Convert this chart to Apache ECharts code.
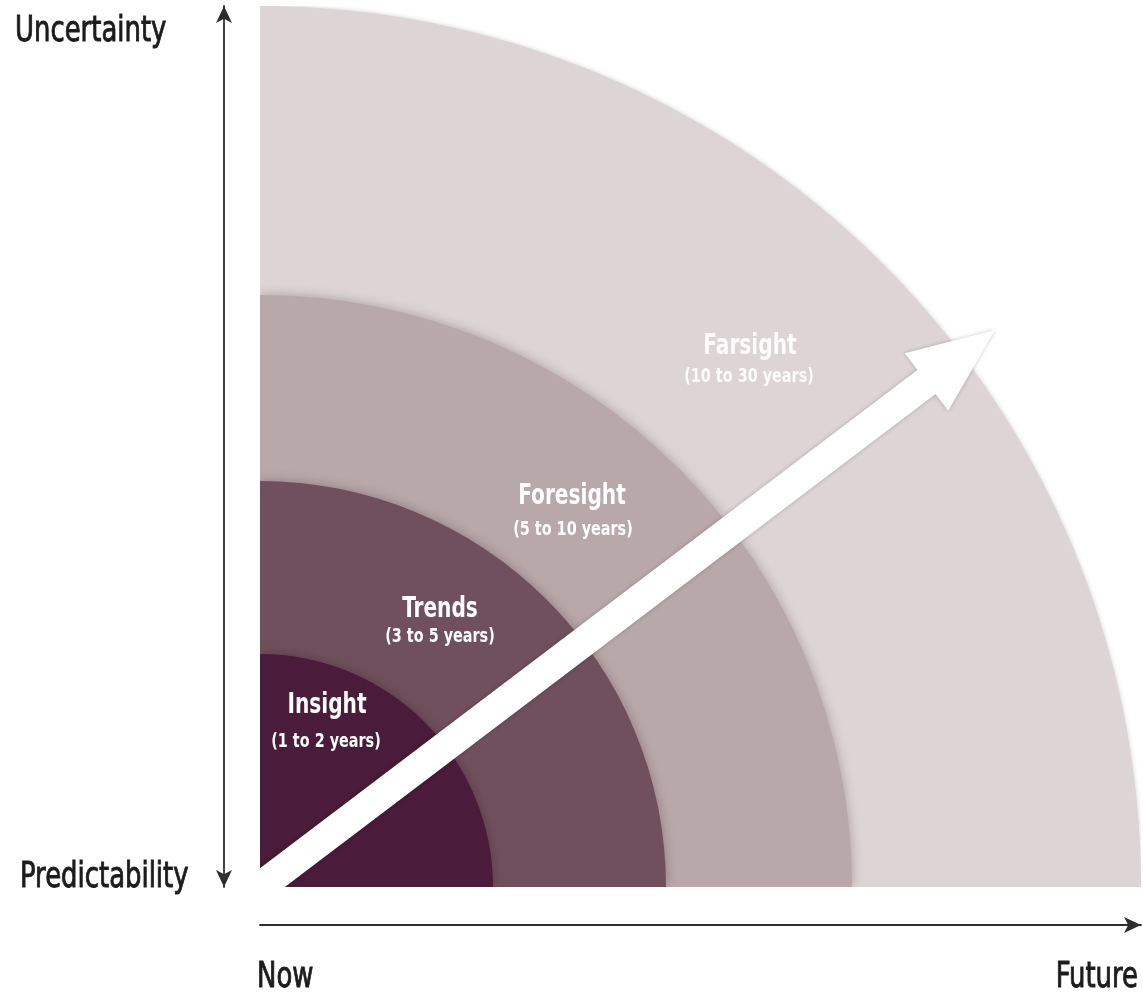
<!DOCTYPE html>
<html><head><meta charset="utf-8">
<script src="https://cdn.jsdelivr.net/npm/echarts@6/dist/echarts.min.js"></script>
<style>html,body{margin:0;padding:0;background:#fff}#c{width:1143px;height:1000px}</style>
</head><body><div id="c"></div>
<script>
// ---- data ----
const ringNames = ['Insight', 'Trends', 'Foresight', 'Farsight'];
const ringPeriods = ['(1 to 2 years)', '(3 to 5 years)', '(5 to 10 years)', '(10 to 30 years)'];
const ringOuterRadius = [233, 406, 592, 881];
const arrowTip = [735, 557];
const uncertaintyEnds = ['Predictability', 'Uncertainty'];
const timeEnds = ['Now', 'Future'];

// ---- styles / layout ----
const ringColors = ['#4a1b3a', '#70505c', '#b9a8aa', '#ddd5d5'];
const labelColors = ['#ffffff', '#ffffff', '#ffffff', 'rgba(255,255,255,0.92)'];
const titleAnchor = [[67, 181], [180, 277], [312, 390], [490, 540]];
const periodAnchor = [[66, 145], [180, 250], [313, 357], [489, 510]];
const FONT = "'Liberation Sans Narrow','DejaVu Sans Condensed','Arial Narrow',sans-serif";
const SQUEEZE = 0.8;

const chart = echarts.init(document.getElementById('c'), null, {renderer: 'canvas'});

const ringData = [3, 2, 1, 0].map(i => [i, ringOuterRadius[i]]);

function labelEl(text, pos, color, size) {
  return {
    type: 'text', x: pos[0], y: pos[1], scaleX: SQUEEZE,
    style: {
      text: text, x: 0, y: 0, fill: color,
      fontSize: size, fontWeight: 'bold', fontFamily: FONT,
      align: 'center', verticalAlign: 'middle'
    }
  };
}

function renderRing(params, api) {
  const i = api.value(0);
  const r = api.value(1);
  const c = api.coord([0, 0]);
  const rp = api.size([r, r])[0];
  return {
    type: 'group',
    children: [
      {
        type: 'sector',
        shape: {cx: c[0], cy: c[1], r0: 0, r: rp, startAngle: -Math.PI / 2, endAngle: 0, clockwise: true},
        style: {
          fill: ringColors[i],
          shadowBlur: i < 3 ? 12 : 5,
          shadowColor: i < 3 ? 'rgba(40,0,20,0.28)' : 'rgba(0,0,0,0.18)'
        }
      },
      labelEl(ringNames[i], api.coord(titleAnchor[i]), labelColors[i], 28),
      labelEl(ringPeriods[i], api.coord(periodAnchor[i]), labelColors[i], 20)
    ]
  };
}

function renderArrow(params, api) {
  const o = api.coord([0, 0]);
  const t = api.coord([api.value(0), api.value(1)]);
  const dx = t[0] - o[0], dy = t[1] - o[1];
  const L = Math.hypot(dx, dy);
  const ux = dx / L, uy = dy / L;
  const nx = -uy, ny = ux;
  const hw = 15, hh = 36, hl = 86;
  const bx = t[0] - ux * hl, by = t[1] - uy * hl;
  const sx = o[0] - ux * 8, sy = o[1] - uy * 8;
  return {
    type: 'polygon',
    shape: {points: [
      [sx + nx * hw, sy + ny * hw],
      [bx + nx * hw, by + ny * hw],
      [bx + nx * hh, by + ny * hh],
      [t[0], t[1]],
      [bx - nx * hh, by - ny * hh],
      [bx - nx * hw, by - ny * hw],
      [sx - nx * hw, sy - ny * hw]
    ]},
    style: {fill: '#ffffff', shadowBlur: 4, shadowColor: 'rgba(0,0,0,0.22)'}
  };
}

const axisLineStyle = {color: '#2e2e2e', width: 1.8};

function sideText(text, x, y, align) {
  return {
    type: 'text', x: x, y: y, scaleX: SQUEEZE,
    style: {
      text: text, x: 0, y: 0, fontSize: 36, fontFamily: FONT, fill: '#1c1c1c',
      stroke: '#1c1c1c', lineWidth: 0.9,
      align: align, verticalAlign: 'middle'
    }
  };
}

chart.setOption({
  animation: false,
  backgroundColor: '#ffffff',
  grid: {left: 260, top: 6, width: 881, height: 881},
  xAxis: {
    type: 'value', min: 0, max: 881, offset: 38,
    axisLine: {show: true, onZero: false, symbol: ['none', 'arrow'], symbolSize: [12, 17], lineStyle: axisLineStyle},
    axisTick: {show: false}, axisLabel: {show: false}, splitLine: {show: false}
  },
  yAxis: {
    type: 'value', min: 0, max: 881, offset: 36,
    axisLine: {show: true, onZero: false, symbol: ['arrow', 'arrow'], symbolSize: [12, 17], lineStyle: axisLineStyle},
    axisTick: {show: false}, axisLabel: {show: false}, splitLine: {show: false}
  },
  series: [
    {type: 'custom', renderItem: renderRing, data: ringData, clip: true, silent: true, z: 2},
    {type: 'custom', renderItem: renderArrow, data: [arrowTip], clip: true, silent: true, z: 3}
  ],
  graphic: [
    sideText(uncertaintyEnds[1], 15, 32, 'left'),
    sideText(uncertaintyEnds[0], 20, 878, 'left'),
    sideText(timeEnds[0], 257, 978, 'left'),
    sideText(timeEnds[1], 1138, 978, 'right')
  ]
});
</script>
</body></html>
